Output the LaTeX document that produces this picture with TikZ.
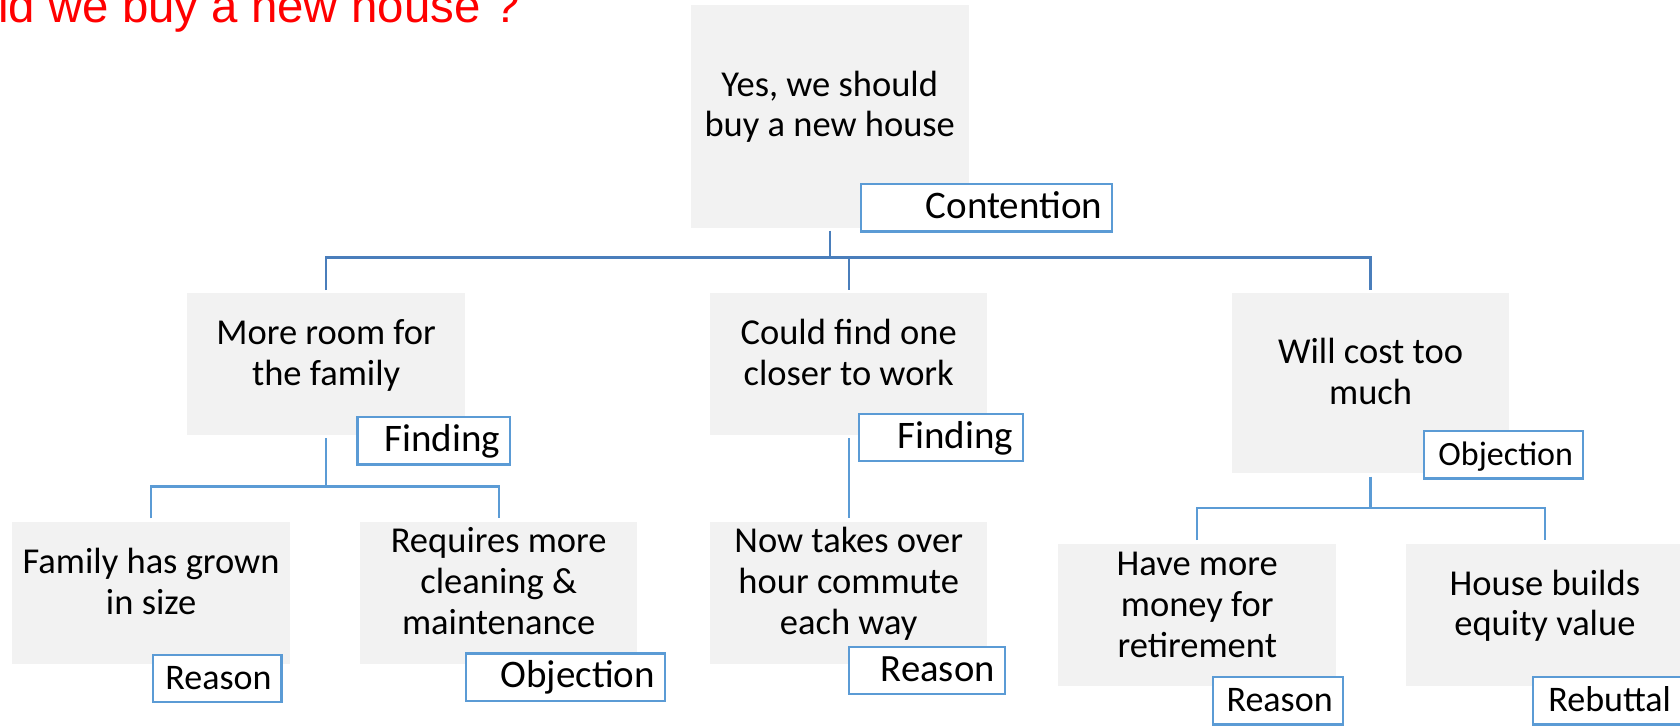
\documentclass[tikz,border=0pt]{standalone}
\usepackage{fontspec}
\setmainfont{Carlito}
\newfontfamily\titlefont{Liberation Sans}
\definecolor{boxgray}{HTML}{F2F2F2}
\definecolor{linedark}{HTML}{4A7EBB}
\definecolor{linelight}{HTML}{5B9BD5}
\definecolor{labelblue}{HTML}{5B9BD5}
\newcommand{\ml}[1]{\begin{tabular}[t]{@{}c@{}}#1\end{tabular}}
\newcommand{\lt}[2]{\makebox[#1][r]{#2}}
\begin{document}
\begin{tikzpicture}[x=0.5pt,y=-0.5pt,
  gbox/.style={fill=boxgray, draw=none, inner sep=0pt, outer sep=0pt, minimum width=138.75pt, minimum height=70.75pt},
  btext/.style={anchor=base, inner sep=0pt, outer sep=0pt, font=\fontsize{18.25}{20.5}\selectfont},
  lab/.style={draw=labelblue, fill=white, line width=1.1pt, inner xsep=5pt, inner ysep=0pt, outer sep=0pt, text height=17.2pt, text depth=6.4pt},
  conn1/.style={draw=linedark, line width=1.2pt},
  conn2/.style={draw=linelight, line width=1.2pt}]
\useasboundingbox (0,0) rectangle (1680,726);
\clip (0,0) rectangle (1680,726);

% boxes
\node[gbox, minimum height=111.5pt] (root) at (830.2,116.2) {};
\node[gbox] (n1) at (326.1,364.2) {};
\node[gbox] (n2) at (848.7,364.2) {};
\node[gbox, minimum height=90pt] (n3) at (1370.6,383.3) {};
\node[gbox] (n11) at (151.1,592.8) {};
\node[gbox] (n12) at (498.7,592.8) {};
\node[gbox] (n21) at (848.7,592.8) {};
\node[gbox, minimum height=71pt] (n31) at (1197.2,615) {};
\node[gbox, minimum height=71pt] (n32) at (1544.9,615) {};

% box texts
\node[btext, font=\fontsize{18.25}{20}\selectfont] (t0) at (829.7,96.7) {\ml{Yes, we should\\buy a new house}};
\node[btext] (t1) at (326.1,345) {\ml{More room for\\the family}};
\node[btext] (t2) at (848.7,345) {\ml{Could find one\\closer to work}};
\node[btext] (t3) at (1370.6,363.3) {\ml{Will cost too\\much}};
\node[btext, font=\fontsize{18.25}{20.2}\selectfont] (t11) at (151.1,574) {\ml{Family has grown\\in size}};
\node[btext] (t12) at (498.7,552.7) {\ml{Requires more\\cleaning \&\\maintenance}};
\node[btext] (t21) at (848.7,552.7) {\ml{Now takes over\\hour commute\\each way}};
\node[btext] (t31) at (1197.2,575) {\ml{Have more\\money for\\retirement}};
\node[btext] (t32) at (1544.9,595) {\ml{House builds\\equity value}};

% connectors
\coordinate (bus0) at (830.2,257.7);
\coordinate (bus1) at (326.1,486.7);
\coordinate (bus3) at (1370.6,508.3);
\draw[conn1] ([yshift=-1.5pt]root.south) -- (bus0);
\draw[conn1] ([yshift=1.65pt]n1.north) -- (n1.north |- bus0) -- (n3.north |- bus0) -- ([yshift=1.65pt]n3.north);
\draw[conn1] (n2.north |- bus0) -- ([yshift=1.65pt]n2.north);
\draw[conn2] ([yshift=-1.65pt]n1.south) -- (bus1);
\draw[conn2] ([yshift=1.8pt]n11.north) -- (n11.north |- bus1) -- (n12.north |- bus1) -- ([yshift=1.8pt]n12.north);
\draw[conn2] ([yshift=-1.65pt]n2.south) -- ([yshift=1.8pt]n21.north);
\draw[conn2] ([yshift=-1.7pt]n3.south) -- (bus3);
\draw[conn2] ([yshift=2pt]n31.north) -- (n31.north |- bus3) -- (n32.north |- bus3) -- ([yshift=2pt]n32.north);

% labels
\node[lab, font=\fontsize{19.5}{22}\selectfont] (l0) at (986.7,208) {\lt{115.55pt}{Contention}};
\node[lab, font=\fontsize{19.5}{22}\selectfont] (l1) at (433.8,440.9) {\lt{66.35pt}{Finding}};
\node[lab, font=\fontsize{19.5}{22}\selectfont] (l2) at (940.9,437.4) {\lt{72.05pt}{Finding}};
\node[lab, font=\fontsize{17}{20}\selectfont] (l3) at (1503.5,455) {\lt{69.5pt}{Objection}};
\node[lab, font=\fontsize{18}{21}\selectfont] (l11) at (217.4,678.7) {\lt{54.1pt}{Reason}};
\node[lab, font=\fontsize{19.5}{22}\selectfont] (l12) at (565.4,677) {\lt{89.55pt}{Objection}};
\node[lab, font=\fontsize{19.3}{22}\selectfont] (l21) at (926.7,670.4) {\lt{67.9pt}{Reason}};
\node[lab, font=\fontsize{18}{21}\selectfont] (l31) at (1277.8,700.9) {\lt{54.85pt}{Reason}};
\node[lab, font=\fontsize{18}{21}\selectfont] (l32) at (1606.9,700.9) {\lt{64.05pt}{Rebuttal}};

% title
\node[anchor=base west, inner sep=0pt, text=red, font=\titlefont\fontsize{23.7}{28}\selectfont] (title) at (-112.7,22.7) {Should we buy a new house ?};
\end{tikzpicture}
\end{document}
